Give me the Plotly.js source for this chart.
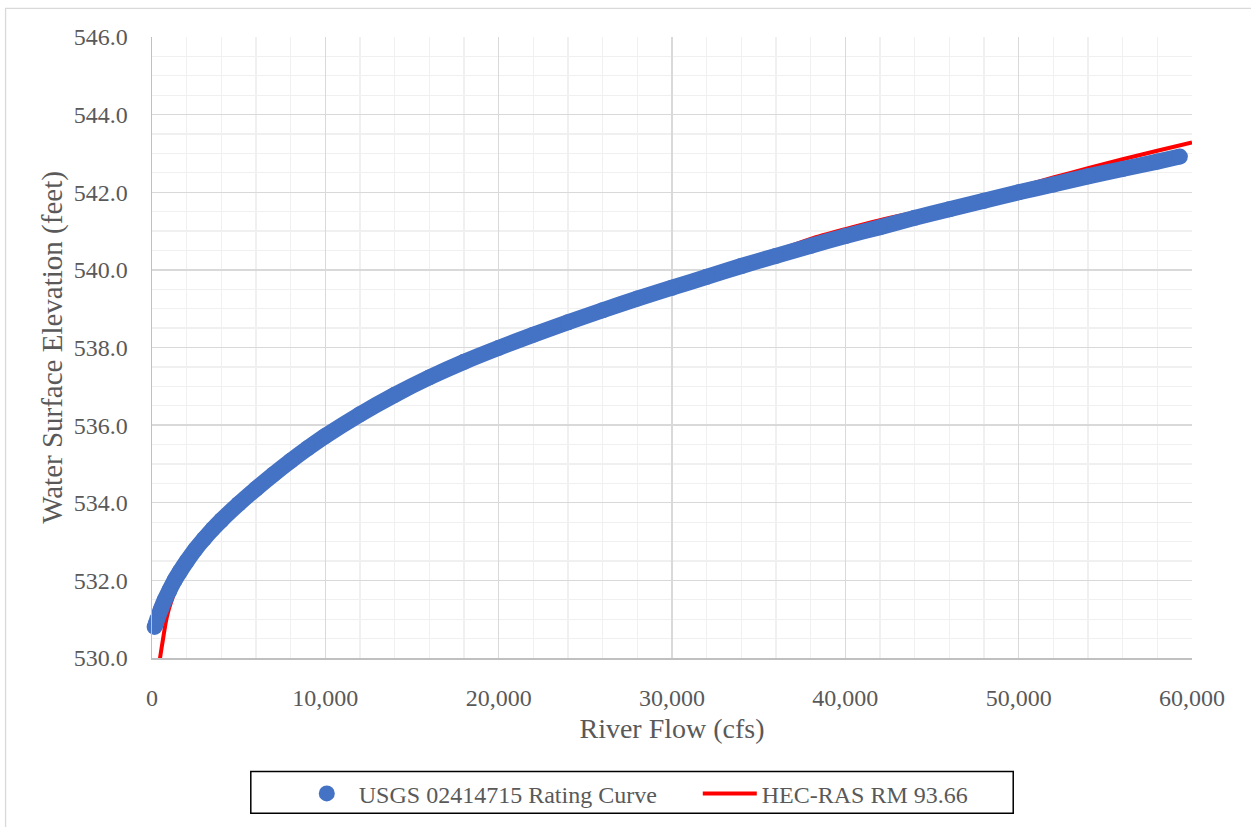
<!DOCTYPE html>
<html>
<head>
<meta charset="utf-8">
<script src="https://cdn.plot.ly/plotly-3.0.1.min.js"></script>
<style>html,body{margin:0;padding:0;background:#fff;}#chart{width:1251px;height:827px;}</style>
</head>
<body>
<div id="chart"></div>
<script>
// USGS rating curve (blue markers)
const usgsFlow = [150, 220, 300, 500, 750, 1000, 1300, 1600, 2000, 2500, 3000, 3500, 4000, 5000, 6000, 7000, 8000, 9000, 10000, 12000, 14000, 16000, 18000, 20000, 22000, 24000, 26000, 28000, 30000, 32000, 34000, 36000, 38000, 40000, 42000, 44000, 46000, 48000, 50000, 52000, 54000, 56000, 58000, 59300];
const usgsStage = [530.80, 530.90, 531.00, 531.24, 531.51, 531.74, 532.00, 532.22, 532.49, 532.80, 533.07, 533.32, 533.55, 533.97, 534.36, 534.73, 535.08, 535.41, 535.72, 536.28, 536.78, 537.23, 537.63, 537.99, 538.33, 538.65, 538.96, 539.26, 539.54, 539.82, 540.10, 540.36, 540.62, 540.87, 541.10, 541.34, 541.56, 541.78, 542.00, 542.20, 542.41, 542.60, 542.79, 542.92];
// HEC-RAS RM 93.66 (red line)
const hecFlow = [446, 550, 640, 730, 830, 980, 1160, 1500, 2000, 2500, 3000, 4000, 5000, 6000, 8000, 10000, 12000, 15000, 20000, 25000, 30000, 34000, 36000, 38000, 40000, 42000, 44000, 46000, 48000, 50000, 52000, 54000, 56000, 58000, 60000];
const hecStage = [529.95, 530.25, 530.50, 530.75, 531.00, 531.27, 531.52, 531.92, 532.40, 532.74, 533.03, 533.53, 533.96, 534.35, 535.06, 535.72, 536.28, 537.02, 537.99, 538.80, 539.55, 540.17, 540.48, 540.80, 541.05, 541.28, 541.48, 541.68, 541.90, 542.13, 542.38, 542.62, 542.85, 543.07, 543.28];

const usgsName = 'USGS 02414715 Rating Curve';
const hecName = 'HEC-RAS RM 93.66';
const xTitle = 'River Flow (cfs)';
const yTitle = 'Water Surface Elevation (feet)';

const blue = '#4472C4';
const red = '#FF0000';
const txt = '#595959';
const fam = '"Liberation Serif", "Times New Roman", serif';

const traces = [
  {x: hecFlow, y: hecStage, type: 'scatter', mode: 'lines', name: hecName,
   line: {color: red, width: 4, shape: 'spline', smoothing: 0.8}, legendrank: 2},
  {x: usgsFlow, y: usgsStage, type: 'scatter', mode: 'lines', showlegend: false, hoverinfo: 'skip',
   line: {color: blue, width: 16, shape: 'spline', smoothing: 0.8}, cliponaxis: false},
  {x: usgsFlow, y: usgsStage, type: 'scatter', mode: 'markers', name: usgsName,
   marker: {color: blue, size: 16}, cliponaxis: false, legendrank: 1}
];

const axisCommon = {
  showgrid: true, gridcolor: '#d9d9d9', gridwidth: 1.3,
  zeroline: false, showline: true, linecolor: '#c0c0c0', linewidth: 1.5,
  ticks: 'outside', ticklen: 18, tickcolor: 'rgba(0,0,0,0)',
  tickfont: {family: fam, size: 24, color: txt}
};

const layout = {
  width: 1251, height: 827,
  margin: {l: 152, r: 59, t: 37, b: 168},
  paper_bgcolor: '#fff', plot_bgcolor: '#fff',
  showlegend: true,
  xaxis: Object.assign({}, axisCommon, {
    range: [0, 60000], tick0: 0, dtick: 10000, tickformat: ',d',
    minor: {dtick: 2000, showgrid: true, gridcolor: '#f0f0f0', gridwidth: 1.3},
    title: {text: xTitle, font: {family: fam, size: 28, color: txt}, standoff: 8}
  }),
  yaxis: Object.assign({}, axisCommon, {
    range: [530, 546], tick0: 530, dtick: 2, tickformat: '.1f',
    minor: {dtick: 0.5, showgrid: true, gridcolor: '#f0f0f0', gridwidth: 1.3},
    title: {text: yTitle, font: {family: fam, size: 29, color: txt}, standoff: 2}
  }),
  legend: {
    orientation: 'h', x: 0.1373, xanchor: 'left', y: -0.2168, yanchor: 'middle',
    bgcolor: 'rgba(0,0,0,0)', borderwidth: 0,
    font: {family: fam, size: 24, color: txt},
    itemwidth: 54,
    entrywidth: 334, entrywidthmode: 'pixels', traceorder: 'normal'
  },
  shapes: [
    {type: 'rect', xref: 'paper', yref: 'paper', x0: -0.1408, x1: 1.2, y0: -0.4, y1: 1.046,
     line: {color: '#d9d9d9', width: 1.3}, fillcolor: 'rgba(0,0,0,0)', layer: 'below'},
    {type: 'rect', xref: 'paper', yref: 'paper', x0: 0.0950, x1: 0.8281, y0: -0.2501, y1: -0.1826,
     line: {color: '#000000', width: 1.5}, fillcolor: 'rgba(0,0,0,0)'}
  ]
};

Plotly.newPlot('chart', traces, layout, {displayModeBar: false, staticPlot: true});
</script>
</body>
</html>
